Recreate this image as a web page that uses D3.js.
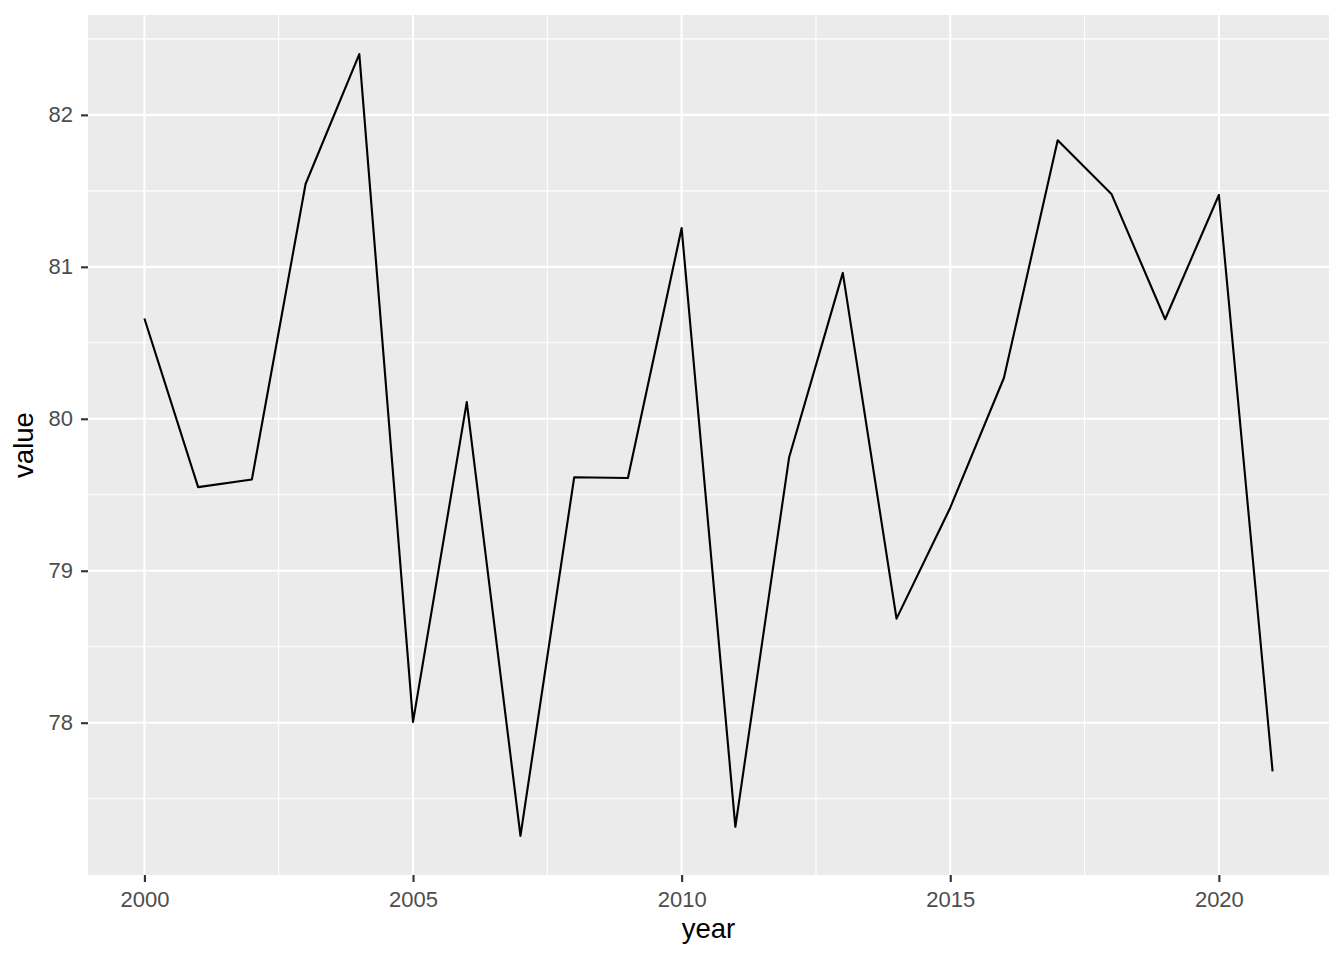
<!DOCTYPE html>
<html><head><meta charset="utf-8">
<script src="https://cdn.jsdelivr.net/npm/d3@7"></script>
<style>body{margin:0;background:#fff;} text{font-family:"Liberation Sans",Arial,sans-serif;}</style>
</head><body>
<svg id="chart" width="1344" height="960"></svg>
<script>
const years = [2000,2001,2002,2003,2004,2005,2006,2007,2008,2009,2010,2011,2012,2013,2014,2015,2016,2017,2018,2019,2020,2021];
const values = [80.66,79.55,79.60,81.545,82.40,78.005,80.11,77.255,79.615,79.61,81.255,77.315,79.745,80.96,78.685,79.415,80.27,81.833,81.48,80.655,81.473,77.68];
const xTicks = [2000,2005,2010,2015,2020];
const yTicks = [78,79,80,81,82];
const xLabel = "year", yLabel = "value";

const svg = d3.select("#chart");
const m = {left:88, top:15, right:1329, bottom:875};
const xmin = d3.min(years), xmax = d3.max(years);
const ymin = d3.min(values), ymax = d3.max(values);
const xe = (xmax-xmin)*0.05, ye = (ymax-ymin)*0.05;
const x = d3.scaleLinear().domain([xmin-xe, xmax+xe]).range([m.left, m.right]);
const y = d3.scaleLinear().domain([ymin-ye, ymax+ye]).range([m.bottom, m.top]);

svg.append("rect").attr("x",m.left).attr("y",m.top).attr("width",m.right-m.left).attr("height",m.bottom-m.top).attr("fill","#EBEBEB");

const xMinor = [];
for (let i=0;i<xTicks.length-1;i++) xMinor.push((xTicks[i]+xTicks[i+1])/2);
const yMinor = [77.5,78.5,79.5,80.5,81.5,82.5];
const g = svg.append("g");
g.selectAll(".xmin").data(xMinor).join("line").attr("x1",d=>x(d)).attr("x2",d=>x(d)).attr("y1",m.top).attr("y2",m.bottom).attr("stroke","#fff").attr("stroke-width",1.07);
g.selectAll(".ymin").data(yMinor).join("line").attr("y1",d=>y(d)).attr("y2",d=>y(d)).attr("x1",m.left).attr("x2",m.right).attr("stroke","#fff").attr("stroke-width",1.07);
g.selectAll(".xmaj").data(xTicks).join("line").attr("x1",d=>x(d)).attr("x2",d=>x(d)).attr("y1",m.top).attr("y2",m.bottom).attr("stroke","#fff").attr("stroke-width",2.13);
g.selectAll(".ymaj").data(yTicks).join("line").attr("y1",d=>y(d)).attr("y2",d=>y(d)).attr("x1",m.left).attr("x2",m.right).attr("stroke","#fff").attr("stroke-width",2.13);

const line = d3.line().x((d,i)=>x(years[i])).y(d=>y(d));
svg.append("path").datum(values).attr("d",line).attr("fill","none").attr("stroke","#000").attr("stroke-width",2.13).attr("stroke-linejoin","round");

const xAxis = d3.axisBottom(x).tickValues(xTicks).tickFormat(d3.format("d")).tickSize(7).tickPadding(9);
const xa = svg.append("g").attr("transform",`translate(0,${m.bottom})`).call(xAxis);
const yAxis = d3.axisLeft(y).tickValues(yTicks).tickFormat(d3.format("d")).tickSize(7).tickPadding(8);
const ya = svg.append("g").attr("transform",`translate(${m.left},0)`).call(yAxis);
[xa,ya].forEach(a=>{
  a.select(".domain").remove();
  a.selectAll(".tick line").attr("stroke","#333").attr("stroke-width",2.13);
  a.selectAll(".tick text").attr("fill","#4D4D4D").style("font-size","22px").style("font-family","Liberation Sans, Arial, sans-serif");
});

svg.append("text").attr("x",(m.left+m.right)/2).attr("y",938).attr("text-anchor","middle").style("font-size","27.5px").attr("fill","#000").text(xLabel);
svg.append("text").attr("transform",`translate(33,${(m.top+m.bottom)/2}) rotate(-90)`).attr("text-anchor","middle").style("font-size","27.5px").attr("fill","#000").text(yLabel);
</script>
</body></html>
